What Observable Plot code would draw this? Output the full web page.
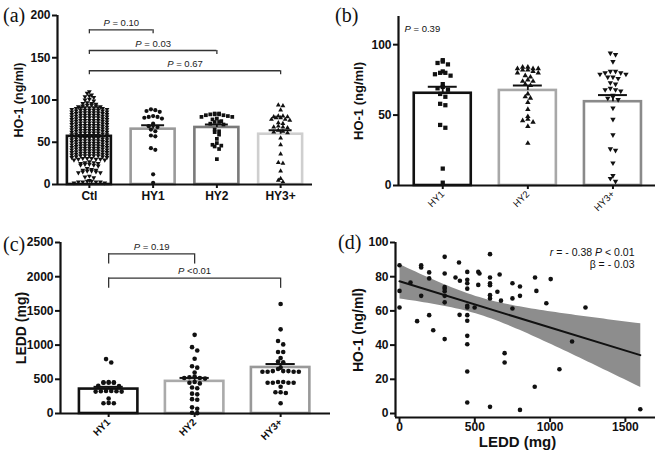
<!DOCTYPE html>
<html><head><meta charset="utf-8">
<script src="https://cdn.jsdelivr.net/npm/d3@7"></script>
<script src="https://cdn.jsdelivr.net/npm/@observablehq/plot@0.6"></script>
<style>
body{margin:0;background:#fff;}
#wrap{position:relative;width:665px;height:461px;overflow:hidden;background:#fff;}
.panel{position:absolute;}
.plab{position:absolute;font-family:"Liberation Serif","Times New Roman",serif;font-size:20px;line-height:20px;color:#111;}
</style></head><body>
<div id="wrap">
  <div class="panel" id="pa" style="left:0;top:0;width:330px;height:215px"></div>
  <div class="panel" id="pb" style="left:330px;top:0;width:335px;height:230px"></div>
  <div class="panel" id="pc" style="left:0;top:225px;width:330px;height:236px"></div>
  <div class="panel" id="pd" style="left:330px;top:225px;width:335px;height:236px"></div>
  <div class="plab" style="left:3px;top:5px">(a)</div>
  <div class="plab" style="left:335px;top:5px">(b)</div>
  <div class="plab" style="left:3px;top:234px">(c)</div>
  <div class="plab" style="left:338px;top:232px">(d)</div>
</div>
<script>
// ---------------- data ----------------
const groupsA = ["Ctl", "HY1", "HY2", "HY3+"];
const groupsHY = ["HY1", "HY2", "HY3+"];

const ctlHO1 = [
  2,3,4,3,2,4,3,5,3,
  8,10,9,
  14,15,16,17,18,15,16,17,14,19,
  22,23,24,25,26,27,23,25,24,26,
  29,30,31,32,30,31,29,32,30,31,
  34,34,35,33,34,35,33,34,34,
  37,37,38,36,37,38,36,37,37,
  40,40,41,39,40,41,39,40,40,
  43,43,44,42,43,44,42,43,43,
  46,46,47,45,46,47,45,46,46,
  49,49,50,48,49,50,48,49,49,
  52,52,53,51,52,53,51,52,52,
  55,55,56,54,55,56,54,55,55,
  58,58,59,57,58,59,57,58,58,
  61,61,62,60,61,62,60,61,61,
  64,64,65,63,64,65,63,64,64,
  67,67,68,66,67,68,66,67,67,
  70,70,71,69,70,71,69,70,70,
  73,73,74,72,73,74,72,73,73,
  76,76,77,75,76,77,75,76,76,
  79,79,80,78,79,80,78,79,79,
  82,82,83,81,82,83,81,82,82,
  85,85,86,84,85,86,84,85,85,
  88,88,89,87,88,89,87,88,88,
  91,91,92,90,91,92,90,91,91,
  93,94,93,95,94,
  96,97,96,
  99,100,101,
  103,104,105,106,
  108,110
];
const hy1HO1 = [87,88,86,89,80,79,81,78,80,72,70,69,68,65,63,58,57,43,41,12,2];
const hy2HO1 = [84,83,83,82,84,83,82,80,80,81,78,77,75,74,74,72,71,65,63,62,59,54,49,47,46,45,42,30];
const hy3HO1 = [94,93,88,81,80,80,79,79,81,77,76,77,73,72,69,68,68,67,64,63,62,61,55,47,36,26,25,16,7,5,3];

const meanA = [57, 65.5, 67.5, 59.5];
const semA  = [1.4, 4.6, 3.5, 4.7];
const pLabelsA = ["P = 0.10", "P = 0.03", "P = 0.67"];
const pPairsA = [[0, 1], [0, 2], [0, 3]];

const meanB = [65.5, 67.5, 59.5];
const semB  = [4.6, 3.5, 4.7];
const pLabelB = "P = 0.39";

const hy1LEDD = [795,745,460,455,450,455,450,450,405,400,330,325,320,330,320,325,220,150,150,155];
const hy2LEDD = [1150,970,920,800,690,670,600,540,530,520,510,520,450,460,440,370,380,290,280,210,200,90,70,10,5];
const hy3LEDD = [1600,1230,1060,1010,900,900,810,760,750,670,650,620,610,610,620,610,620,610,450,460,450,450,460,450,390,310,300,310,150];
const meanC = [357, 470, 673];
const semC  = [33, 50, 50];
const pLabelsC = ["P = 0.19", "P <0.01"];
const pPairsC = [[0, 1], [0, 2]];

const leddD = [0,0,0,73,144,144,144,117,197,197,197,224,300,300,300,300,300,300,300,300,372,395,401,399,
  450,450,450,450,450,450,450,450,450,450,450,450,499,523,531,523,601,601,601,601,601,601,601,650,665,674,
  750,750,750,698,698,800,800,800,900,909,898,975,1004,1062,1146,1235,1599];
const ho1D = [86.7,71.7,62,76.6,86.7,85.4,68.8,54,82.5,79,57.5,48.7,91.6,81.9,74,73,71.5,68.8,65,43.5,79.5,88.3,77.6,57.7,
  82.8,78.2,76.2,73,63,62,57.5,54.2,45.4,40.5,24.6,6.4,62,82.8,81.9,75.2,93.2,79.5,76.2,75,69.2,67.3,3.9,71.2,81.3,66,
  76.2,67.3,61.4,35.3,29.8,74.3,68.8,2.1,79.5,71.7,15.6,64.5,78.6,25.9,42.1,62,2.5];
const statD = ["r = - 0.38 P < 0.01", "\u03b2 = - 0.03"];

// ---------------- helpers ----------------
const FONT = '"Liberation Sans", Arial, Helvetica, sans-serif';
const S3 = Math.sqrt(3);
const triDown = {draw(ctx, size) {
  const y = -Math.sqrt(size / (S3 * 3));
  ctx.moveTo(0, -y * 2); ctx.lineTo(S3 * y, y); ctx.lineTo(-S3 * y, y); ctx.closePath();
}};

// deterministic scatter-dot layout (rows of similar values spread sideways)
function swarm(values, pxY, rowPx, stepPx, maxHalf) {
  const order = values.map((v, i) => i).sort((a, b) => values[a] - values[b]);
  const off = new Array(values.length).fill(0);
  let row = [];
  const flush = () => {
    const n = row.length;
    if (!n) return;
    const s = n > 1 ? Math.min(stepPx, 2 * maxHalf / (n - 1)) : 0;
    const slots = d3.range(n).map(k => (k - (n - 1) / 2) * s).sort((a, b) => Math.abs(a) - Math.abs(b) || a - b);
    const byVal = row.slice().sort((a, b) => values[b] - values[a]);
    byVal.forEach((idx, k) => off[idx] = slots[k]);
    row = [];
  };
  for (const i of order) {
    if (row.length && (values[i] - values[row[0]]) * pxY > rowPx) flush();
    row.push(i);
  }
  flush();
  return off;
}

function italicize(svg) {
  svg.querySelectorAll("text").forEach(t => {
    if (t.querySelector("tspan")) return;
    const s = t.textContent;
    if (!/(^|\s)(P|r)(\s|$)/.test(s)) return;
    t.textContent = "";
    s.split(/(\bP\b|\br\b)/).forEach(part => {
      if (!part) return;
      const ts = document.createElementNS("http://www.w3.org/2000/svg", "tspan");
      if (part === "P" || part === "r") ts.setAttribute("font-style", "italic");
      ts.textContent = part;
      t.appendChild(ts);
    });
  });
}

function barPanel(c) {
  const iw = c.width - c.ml - c.mr, ih = c.height - c.mt - c.mb;
  const pxX = iw / (c.xDomain[1] - c.xDomain[0]);
  const pxY = ih / (c.yDomain[1] - c.yDomain[0]);
  const marks = [];
  c.groups.forEach((g, i) => {
    marks.push(Plot.rect([c.means[i]], {x1: i - c.hw, x2: i + c.hw, y1: 0, y2: d => d,
      fill: "white", stroke: c.strokes[i], strokeWidth: c.barStroke}));
  });
  c.series.forEach((vals, i) => {
    const off = swarm(vals, pxY, c.rowPx[i], c.stepPx[i], c.maxHalf[i]);
    const pts = vals.map((v, k) => ({x: i + off[k] / pxX, y: v}));
    marks.push(Plot.dot(pts, {x: "x", y: "y", symbol: c.symbols[i], r: c.r[i], fill: "#111", stroke: "none"}));
  });
  c.groups.forEach((g, i) => {
    const top = c.means[i] + c.sems[i];
    marks.push(Plot.ruleX([i], {y1: c.means[i], y2: top, stroke: "#111", strokeWidth: 1.8}));
    marks.push(Plot.ruleY([top], {x1: i - c.cap, x2: i + c.cap, stroke: "#111", strokeWidth: 2}));
  });
  // axes
  marks.push(Plot.ruleX([c.xDomain[0]], {y1: c.yDomain[0], y2: c.yDomain[1], stroke: "#111", strokeWidth: 2.2}));
  marks.push(Plot.ruleY([c.yDomain[0]], {x1: c.xDomain[0], x2: c.xDomain[1], stroke: "#111", strokeWidth: 2.2}));
  marks.push(Plot.axisY({ticks: c.yTicks, tickFormat: d => String(d), tickSize: 5, tickPadding: 2,
    strokeWidth: 2, fontSize: 12, fontWeight: "bold", fontFamily: FONT}));
  marks.push(Plot.axisX({ticks: c.groups.map((g, i) => i), tickFormat: i => c.groups[i], tickSize: 4,
    tickPadding: c.xTickPad, strokeWidth: 2, tickRotate: c.tickRotate, fontSize: c.xFontSize,
    fontWeight: c.xFontWeight, fontFamily: FONT}));
  marks.push(Plot.text([c.yLabel], {frameAnchor: "left", textAnchor: "middle", lineAnchor: "middle",
    rotate: -90, dx: c.yLabelDx, fontSize: c.yLabelSize, fontWeight: "bold", fontFamily: FONT}));
  // significance brackets
  (c.brackets || []).forEach(b => {
    const [a, e] = b.pair;
    marks.push(Plot.ruleY([b.level], {x1: a, x2: e, stroke: "#333", strokeWidth: 1.3}));
    marks.push(Plot.ruleX([a, e], {y1: b.level, y2: b.level - b.tick, stroke: "#333", strokeWidth: 1.3}));
    marks.push(Plot.text([b.label], {x: (a + e) / 2, y: b.level, dy: -7, fontSize: 9.5,
      fontWeight: "normal", fontFamily: FONT, fill: "#222"}));
  });
  if (c.extra) marks.push(...c.extra);
  const svg = Plot.plot({
    width: c.width, height: c.height,
    marginLeft: c.ml, marginRight: c.mr, marginTop: c.mt, marginBottom: c.mb,
    x: {domain: c.xDomain, label: null},
    y: {domain: c.yDomain, label: null},
    style: {fontFamily: FONT, background: "transparent", color: "#111"},
    marks
  });
  italicize(svg);
  return svg;
}

// ---------------- panel (a) ----------------
const pa = barPanel({
  width: 330, height: 215, ml: 57, mr: 18, mt: 15, mb: 31,
  xDomain: [-0.5, 3.5], yDomain: [0, 200], yTicks: [0, 50, 100, 150, 200],
  groups: groupsA, series: [ctlHO1, hy1HO1, hy2HO1, hy3HO1],
  means: meanA, sems: semA,
  strokes: ["#111", "#9a9a9a", "#7a7a7a", "#cfcfcf"], barStroke: 2.6,
  symbols: [triDown, "circle", "square", "triangle"], r: [1.8, 2.1, 2.1, 1.8],
  rowPx: [2.2, 3, 3, 3], stepPx: [4.4, 4.4, 4.4, 4.6], maxHalf: [21, 18, 18, 18],
  hw: 0.345, cap: 0.18,
  tickRotate: 0, xFontSize: 12, xFontWeight: "bold", xTickPad: 3,
  yLabel: "HO-1 (ng/ml)", yLabelDx: -39, yLabelSize: 12.5,
  brackets: pPairsA.map((p, k) => ({pair: p, label: pLabelsA[k], level: [183, 158.6, 134.6][k], tick: 4.7}))
});
document.getElementById("pa").appendChild(pa);

// ---------------- panel (b) ----------------
const pb = barPanel({
  width: 335, height: 230, ml: 68, mr: 10, mt: 16, mb: 45,
  xDomain: [-0.52, 2.5], yDomain: [0, 120], yTicks: [0, 50, 100],
  groups: groupsHY, series: [hy1HO1, hy2HO1, hy3HO1],
  means: meanB, sems: semB,
  strokes: ["#111", "#a8a8a8", "#8a8a8a"], barStroke: 2.6,
  symbols: ["square", "triangle", triDown], r: [2.4, 2.0, 2.0],
  rowPx: [3.5, 3.5, 3.5], stepPx: [5.2, 5.2, 5.2], maxHalf: [24, 24, 24],
  hw: 0.335, cap: 0.17,
  tickRotate: -45, xFontSize: 9.5, xFontWeight: "normal", xTickPad: 3,
  yLabel: "HO-1 (ng/ml)", yLabelDx: -40, yLabelSize: 13,
  extra: [Plot.text([pLabelB], {frameAnchor: "top-left", dx: 6, dy: 9, textAnchor: "start",
    fontSize: 9.5, fontWeight: "normal", fontFamily: FONT})]
});
document.getElementById("pb").appendChild(pb);

// ---------------- panel (c) ----------------
const pc = barPanel({
  width: 330, height: 236, ml: 60, mr: 0, mt: 17, mb: 48,
  xDomain: [-0.56, 2.58], yDomain: [0, 2500], yTicks: [0, 500, 1000, 1500, 2000, 2500],
  groups: groupsHY, series: [hy1LEDD, hy2LEDD, hy3LEDD],
  means: meanC, sems: semC,
  strokes: ["#111", "#aaaaaa", "#999999"], barStroke: 2.6,
  symbols: ["circle", "circle", "circle"], r: [2.3, 2.3, 2.3],
  rowPx: [3.5, 3.5, 3.5], stepPx: [5.2, 5.2, 5.2], maxHalf: [24, 24, 24],
  hw: 0.34, cap: 0.17,
  tickRotate: -45, xFontSize: 10, xFontWeight: "bold", xTickPad: 3,
  yLabel: "LEDD (mg)", yLabelDx: -38.5, yLabelSize: 14,
  brackets: pPairsC.map((p, k) => ({pair: p, label: pLabelsC[k], level: [2335, 1980][k], tick: 150}))
});
document.getElementById("pc").appendChild(pc);

// ---------------- panel (d) ----------------
const scatter = leddD.map((x, i) => ({x, y: ho1D[i]}));
const dx0 = -26.6, dy0 = -2.34;
const pd = Plot.plot({
  width: 335, height: 236, marginLeft: 65, marginRight: 10, marginTop: 17, marginBottom: 44,
  x: {domain: [dx0, 1700], label: null},
  y: {domain: [dy0, 100], label: null},
  style: {fontFamily: FONT, background: "transparent", color: "#111"},
  marks: [
    Plot.linearRegressionY(scatter, {x: "x", y: "y", ci: 0.95, fill: "#8d8d8d", fillOpacity: 1,
      stroke: "#111", strokeWidth: 2}),
    Plot.dot(scatter, {x: "x", y: "y", r: 2.3, fill: "#111", stroke: "none"}),
    Plot.ruleX([dx0], {y1: dy0, y2: 100, stroke: "#111", strokeWidth: 2.2}),
    Plot.ruleY([dy0], {x1: dx0, x2: 1700, stroke: "#111", strokeWidth: 2.2}),
    Plot.axisY({ticks: [0, 20, 40, 60, 80, 100], tickFormat: d => String(d), tickSize: 5, tickPadding: 2,
      strokeWidth: 2, fontSize: 12, fontWeight: "bold", fontFamily: FONT}),
    Plot.axisX({ticks: [0, 500, 1000, 1500], tickFormat: d => String(d), tickSize: 5, tickPadding: 0,
      strokeWidth: 2, fontSize: 12, fontWeight: "bold", fontFamily: FONT}),
    Plot.text(["HO-1 (ng/ml)"], {frameAnchor: "left", textAnchor: "middle", lineAnchor: "middle",
      rotate: -90, dx: -37, fontSize: 14, fontWeight: "bold", fontFamily: FONT}),
    Plot.text(["LEDD (mg)"], {frameAnchor: "bottom", textAnchor: "middle", lineAnchor: "middle",
      dx: -8, dy: 25, fontSize: 15, fontWeight: "bold", fontFamily: FONT}),
    Plot.text([statD[0]], {frameAnchor: "top-right", dx: -21, dy: 6, textAnchor: "end",
      fontSize: 10.5, fontWeight: "normal", fontFamily: FONT}),
    Plot.text([statD[1]], {frameAnchor: "top-right", dx: -21, dy: 18, textAnchor: "end",
      fontSize: 10.5, fontWeight: "normal", fontFamily: FONT})
  ]
});
italicize(pd);
document.getElementById("pd").appendChild(pd);
</script>
</body></html>
